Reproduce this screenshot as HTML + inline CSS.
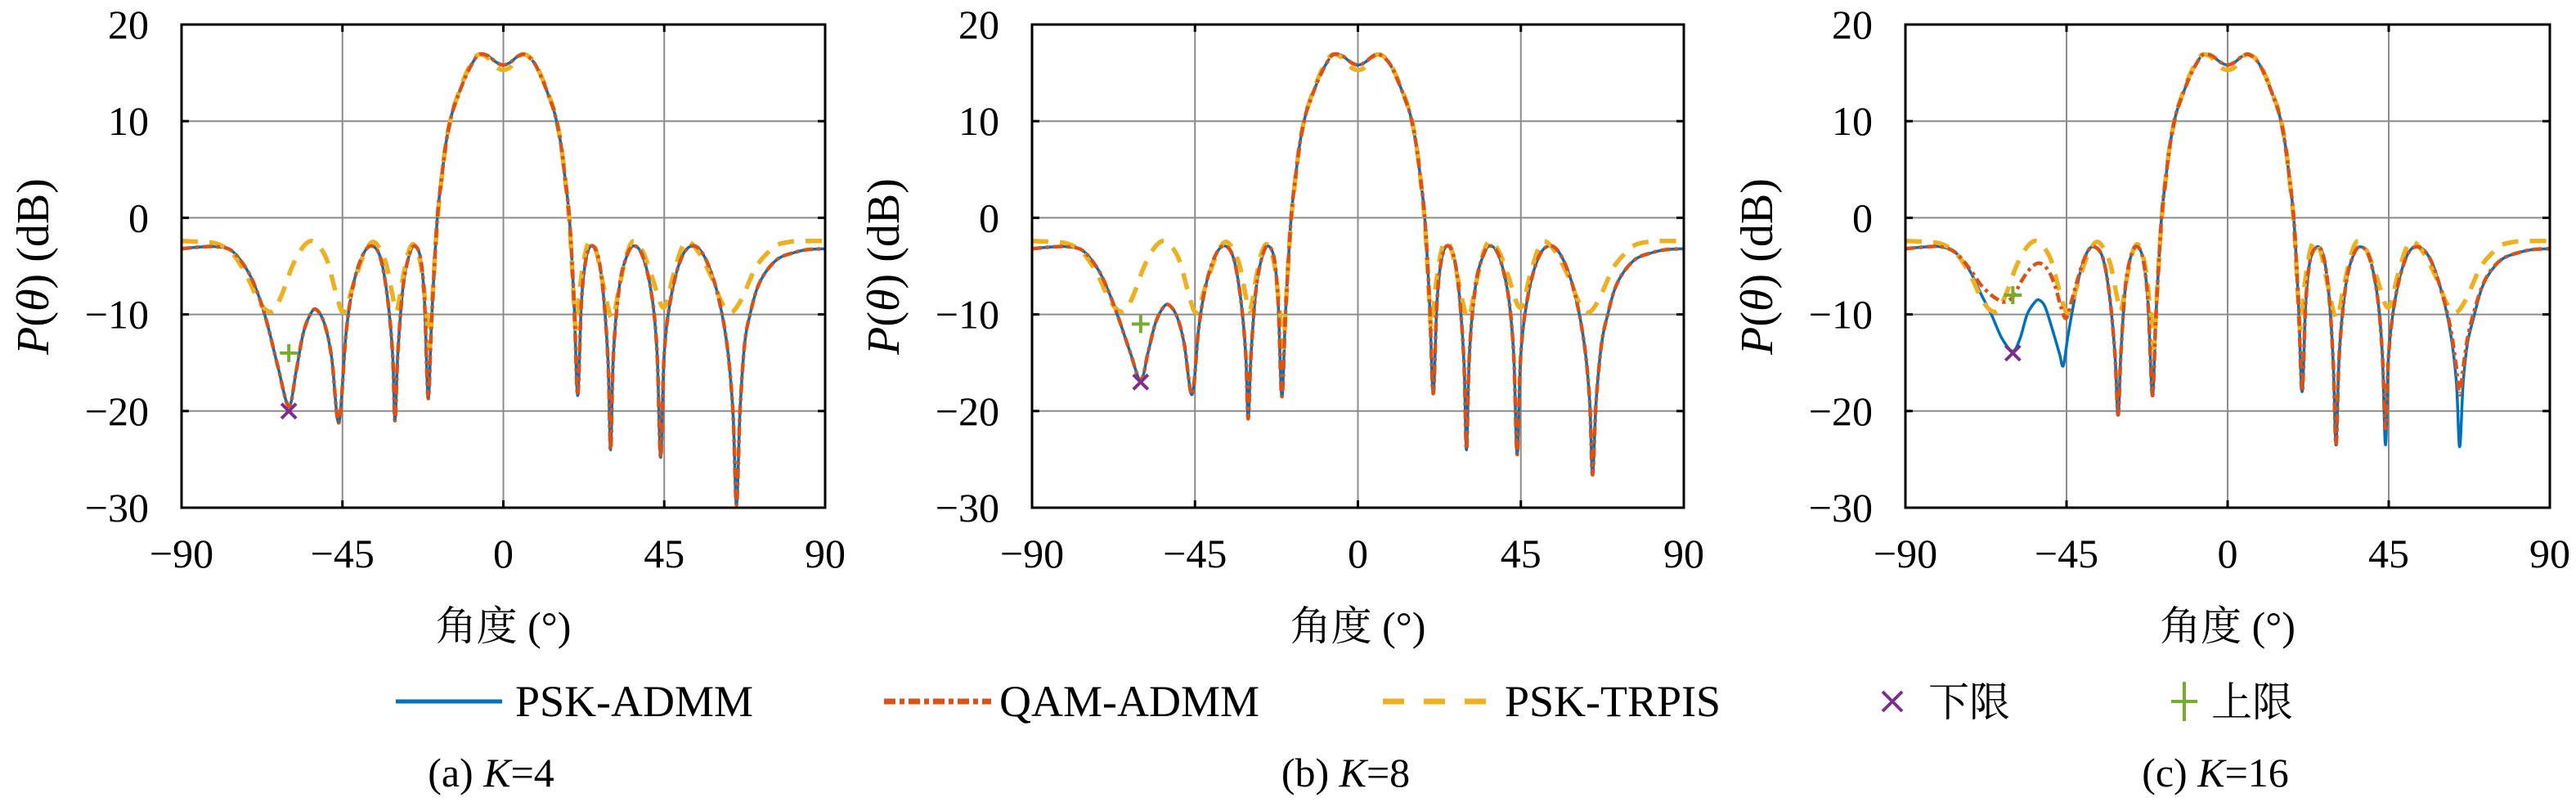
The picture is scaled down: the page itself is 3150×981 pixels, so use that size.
<!DOCTYPE html>
<html><head><meta charset="utf-8">
<style>
html,body{margin:0;padding:0;background:#fff;}
svg{display:block;}
svg text{font-family:"Liberation Serif","DejaVu Serif","Noto Serif CJK SC",serif;fill:#000;}
</style></head>
<body>
<svg id="fig" width="3150" height="981" viewBox="0 0 3150 981" xmlns="http://www.w3.org/2000/svg" font-family="Liberation Serif, DejaVu Serif, Noto Serif CJK SC, serif">
<g>
  <g>
    <line x1="484" y1="858" x2="614" y2="858" stroke="#0072BD" stroke-width="5"/>
    <text x="630" y="876" font-size="54" font-family="Liberation Serif, serif">PSK-ADMM</text>
  </g>
  <g>
    <line x1="1081" y1="858" x2="1212" y2="858" stroke="#D95319" stroke-width="7" stroke-dasharray="14 5 6 5"/>
    <text x="1222" y="876" font-size="54" font-family="Liberation Serif, serif">QAM-ADMM</text>
  </g>
  <g>
    <line x1="1691" y1="858" x2="1821" y2="858" stroke="#EDB120" stroke-width="7" stroke-dasharray="26 24"/>
    <text x="1840" y="876" font-size="54" font-family="Liberation Serif, serif">PSK-TRPIS</text>
  </g>
  <g>
    <path d="M2302 846 L2326 870 M2326 846 L2302 870" stroke="#7E2F8E" stroke-width="4"/>
    <text x="2358" y="876" font-size="50" font-family="Noto Serif CJK SC, serif">下限</text>
  </g>
  <g>
    <path d="M2671 834 L2671 882 M2655 858 L2687 858" stroke="#77AC30" stroke-width="4"/>
    <text x="2704" y="876" font-size="50" font-family="Noto Serif CJK SC, serif">上限</text>
  </g>
</g>
</svg>
<script>
// Shared axis ticks
const xTicks = [-90, -45, 0, 45, 90];
const yTicks = [20, 10, 0, -10, -20, -30];
const xTickLabels = ["\u221290", "\u221245", "0", "45", "90"];
const yTickLabels = ["20", "10", "0", "\u221210", "\u221220", "\u221230"];
const panelCaptions = ["(a) ", "(b) ", "(c) "];
const panelK = ["4", "8", "16"];

// Panel (a) K=4 : [angle, dB]
const psk_a = [[-90,-3.2],[-84,-3.0],[-80,-3.0],[-76,-3.4],[-72,-5.2],[-69,-7.5],[-66,-11],[-63,-15.5],[-60,-19.5],[-58,-16],[-56,-12],[-54,-10],[-52.3,-9.5],[-50,-11],[-48,-14.5],[-46,-21.2],[-44,-12],[-42,-7],[-39.5,-4],[-37,-2.9],[-34.5,-4],[-32.5,-8],[-31,-14],[-30.3,-21],[-29.5,-14],[-28,-7],[-26,-3.5],[-24.4,-3.0],[-23,-4.5],[-22,-9],[-21,-18.7],[-20,-10],[-18.5,-0.2],[-17.2,4.3],[-16,7.8],[-14.5,10.6],[-13,12.3],[-10.8,14.4],[-8.5,16.1],[-6.8,16.9],[-4.5,16.8],[-2,16.1],[0,15.8],[2,16.1],[4,16.7],[5.9,16.9],[8.5,16.1],[10.8,14.4],[13,12.3],[14.5,10.6],[16,7.8],[17.2,4.3],[18.5,-0.2],[19.8,-9],[20.8,-18.4],[21.8,-9],[23,-4.5],[24.6,-2.9],[26.5,-4],[28,-8],[29.3,-15],[30,-24],[30.8,-14],[32.5,-7],[34.5,-4],[36.5,-2.9],[39,-4],[41.5,-8],[43,-14],[44,-24.8],[45,-14],[47,-8],[50,-4],[53.3,-2.9],[56.5,-4.2],[59.8,-7.7],[62.5,-13],[64.2,-20],[65.2,-29.7],[66.2,-20],[67.5,-13],[69,-10],[71,-7.3],[73.6,-5.5],[77,-4.2],[81.3,-3.6],[85,-3.3],[90,-3.2]];
const qam_a = psk_a;
const trpis_a = [[-90,-2.4],[-84,-2.5],[-80,-2.7],[-76,-3.6],[-72,-5.8],[-69,-8.2],[-66.5,-9.5],[-64.3,-9.6],[-62,-8],[-59,-5],[-56,-3],[-53.5,-2.4],[-51,-3.2],[-49,-4.7],[-47,-7.5],[-44.7,-9.8],[-42,-7],[-39,-3.8],[-36.2,-2.5],[-33,-4.5],[-31,-8],[-29.8,-9.6],[-28,-6],[-26.5,-3.5],[-24.9,-2.8],[-23,-5],[-21.5,-10],[-20.6,-13.4],[-19.6,-7],[-18.5,-0.5],[-17.2,4.3],[-16,7.8],[-14.5,10.6],[-13,12.4],[-10.8,14.6],[-8.5,16.3],[-6.8,16.9],[-4.5,16.6],[-2,15.6],[0,15.3],[2,15.6],[4,16.6],[5.9,16.9],[8.5,16.2],[10.8,14.5],[13,12.4],[14.5,10.7],[16,7.9],[17.2,4.3],[18.5,-0.5],[19.5,-7],[20.3,-11.5],[21.5,-7],[23,-3.5],[24.3,-2.4],[26,-3.5],[28,-7],[30.4,-10.4],[32.5,-7],[34.5,-3.8],[36.4,-2.4],[39,-3.5],[41.5,-6],[44.8,-9.3],[47.5,-6],[49.5,-3.5],[51.4,-2.4],[54.5,-3.5],[58.3,-6.2],[61,-8.7],[63.6,-9.8],[66.5,-8.5],[70.5,-5.2],[74,-3.6],[76.6,-2.8],[80,-2.5],[82.8,-2.4],[90,-2.4]];
const lower_a = [[-60,-20]];
const upper_a = [[-60,-14]];

// Panel (b) K=8
const psk_b = [[-90,-3.2],[-84,-3.0],[-80,-3.0],[-76,-3.4],[-72,-5.2],[-69,-7.5],[-66,-10.5],[-63,-13.8],[-60,-16.8],[-58,-14],[-56,-11],[-54,-9.4],[-52.3,-9.0],[-50,-10.2],[-48,-13],[-45.8,-18.3],[-44,-11.5],[-42,-7],[-39.5,-4],[-37,-2.9],[-34.5,-4],[-32.5,-8],[-31,-14],[-30.3,-20.8],[-29.5,-14],[-28,-7],[-26,-3.5],[-24.4,-3.0],[-23,-4.5],[-22,-9],[-21,-18.5],[-20,-10],[-18.5,-0.2],[-17.2,4.3],[-16,7.8],[-14.5,10.6],[-13,12.3],[-10.8,14.4],[-8.5,16.1],[-6.8,16.9],[-4.5,16.8],[-2,16.1],[0,15.8],[2,16.1],[4,16.7],[5.9,16.9],[8.5,16.1],[10.8,14.4],[13,12.3],[14.5,10.6],[16,7.8],[17.2,4.3],[18.5,-0.2],[19.8,-9],[20.8,-18.2],[21.8,-9],[23,-4.5],[24.6,-2.9],[26.5,-4],[28,-8],[29.3,-15],[30,-24],[30.8,-14],[32.5,-7],[34.5,-4],[36.5,-2.9],[39,-4],[41.5,-8],[43,-14],[44,-24.5],[45,-14],[47,-8],[50,-4],[53.3,-2.9],[56.5,-4.2],[59.8,-7.7],[62.5,-13],[64,-19],[64.8,-26.6],[65.8,-19],[67.3,-13],[69,-10],[71,-7.3],[73.6,-5.5],[77,-4.2],[81.3,-3.6],[85,-3.3],[90,-3.2]];
const qam_b = psk_b;
const trpis_b = trpis_a;
const lower_b = [[-60,-17]];
const upper_b = [[-60,-11]];

// Panel (c) K=16
const psk_c = [[-90,-3.2],[-84,-3.0],[-80,-3.0],[-76,-3.6],[-72,-5.5],[-69,-7.8],[-66,-10],[-63,-12.5],[-60,-13.8],[-58,-12.5],[-56,-10],[-54,-8.8],[-52.7,-8.5],[-51,-9.2],[-49,-11.5],[-47,-14],[-45.9,-15.3],[-44.5,-12],[-42,-7],[-40,-4.2],[-37.8,-3.0],[-35,-4],[-33,-8],[-31.5,-14],[-30.6,-20.4],[-29.8,-14],[-28.5,-7],[-26.8,-3.7],[-25.1,-3.0],[-23.5,-4.5],[-22.2,-9],[-21,-18.4],[-20,-10],[-18.5,-0.2],[-17.2,4.3],[-16,7.8],[-14.5,10.6],[-13,12.3],[-10.8,14.4],[-8.5,16.1],[-6.8,16.9],[-4.5,16.8],[-2,16.1],[0,15.8],[2,16.1],[4,16.7],[5.9,16.9],[8.5,16.1],[10.8,14.4],[13,12.3],[14.5,10.6],[16,7.8],[17.2,4.3],[18.5,-0.2],[19.8,-9],[20.8,-18],[21.8,-9],[23,-4.5],[25,-3.0],[26.8,-4],[28.3,-8],[29.5,-15],[30.3,-23.5],[31.2,-14],[33,-7],[35,-4],[37,-3.0],[39.5,-4],[41.8,-8],[43.2,-14],[44.1,-23.5],[45,-14],[47,-8],[50,-4],[53,-3.0],[56.5,-4.2],[59.8,-7.7],[62.3,-12],[63.9,-17],[64.8,-23.7],[65.8,-17],[67,-13],[68.6,-10.5],[71,-7.3],[73.6,-5.5],[77,-4.2],[81.3,-3.6],[85,-3.3],[90,-3.2]];
const qam_c = [[-90,-3.2],[-84,-3.0],[-80,-3.0],[-76,-3.6],[-72,-5.3],[-69,-6.9],[-66,-8.0],[-63.5,-8.6],[-62.2,-8.7],[-60,-8.2],[-57.5,-6.5],[-55,-5.2],[-52.5,-4.7],[-50,-5.5],[-48,-7.3],[-46.5,-9.3],[-45.1,-10.4],[-43.5,-8.5],[-42,-6.5],[-40,-4.2],[-37.8,-3.0],[-35,-4],[-33,-8],[-31.5,-14],[-30.6,-20.4],[-29.8,-14],[-28.5,-7],[-26.8,-3.7],[-25.1,-3.0],[-23.5,-4.5],[-22.2,-9],[-21,-18.4],[-20,-10],[-18.5,-0.2],[-17.2,4.3],[-16,7.8],[-14.5,10.6],[-13,12.3],[-10.8,14.4],[-8.5,16.1],[-6.8,16.9],[-4.5,16.8],[-2,16.1],[0,15.8],[2,16.1],[4,16.7],[5.9,16.9],[8.5,16.1],[10.8,14.4],[13,12.3],[14.5,10.6],[16,7.8],[17.2,4.3],[18.5,-0.2],[19.8,-9],[20.8,-18],[21.8,-9],[23,-4.5],[25,-3.0],[26.8,-4],[28.3,-8],[29.5,-15],[30.3,-23.5],[31.2,-14],[33,-7],[35,-4],[37,-3.0],[39.5,-4],[41.8,-8],[43.2,-14],[44.1,-21.8],[45,-14],[47,-8],[50,-4],[53,-3.0],[56.5,-4.2],[59.8,-7.7],[62.3,-11.5],[63.9,-15.5],[64.8,-18.3],[65.8,-15.5],[67,-12.5],[68.6,-10],[71,-7.2],[73.6,-5.4],[77,-4.2],[81.3,-3.6],[85,-3.3],[90,-3.2]];
const trpis_c = trpis_a;
const lower_c = [[-60,-14]];
const upper_c = [[-60,-8]];

const panels = [
  {x0:222, x1:1009, psk:psk_a, qam:qam_a, trpis:trpis_a, lo:lower_a, up:upper_a},
  {x0:1262, x1:2059, psk:psk_b, qam:qam_b, trpis:trpis_b, lo:lower_b, up:upper_b},
  {x0:2330, x1:3118, psk:psk_c, qam:qam_c, trpis:trpis_c, lo:lower_c, up:upper_c}
];
const Y0 = 30, Y1 = 621;
const NS = "http://www.w3.org/2000/svg";
const SERIF = "Liberation Serif, DejaVu Serif, serif";
const svg = document.getElementById('fig');
function mk(tag, attrs, parent){const e=document.createElementNS(NS,tag);for(const k in attrs)e.setAttribute(k,attrs[k]);(parent||svg).appendChild(e);return e;}
function pathFrom(pts, sx, sy){
  const p = pts.map(d=>[sx(d[0]), sy(d[1])]);
  let d = "M"+p[0][0].toFixed(1)+" "+p[0][1].toFixed(1);
  for(let i=0;i<p.length-1;i++){
    const p0=p[Math.max(i-1,0)], p1=p[i], p2=p[i+1], p3=p[Math.min(i+2,p.length-1)];
    const c1=[p1[0]+(p2[0]-p0[0])/6, p1[1]+(p2[1]-p0[1])/6];
    const c2=[p2[0]-(p3[0]-p1[0])/6, p2[1]-(p3[1]-p1[1])/6];
    d+=" C"+c1[0].toFixed(1)+" "+c1[1].toFixed(1)+" "+c2[0].toFixed(1)+" "+c2[1].toFixed(1)+" "+p2[0].toFixed(1)+" "+p2[1].toFixed(1);
  }
  return d;
}
panels.forEach((P, idx)=>{
  const sx = a => P.x0 + (a+90)/180*(P.x1-P.x0);
  const sy = v => Y0 + (20-v)/50*(Y1-Y0);
  const g = mk('g', {});
  
  
  const clipId = 'clip'+idx;
  const cp = mk('clipPath', {id:clipId}, g);
  mk('rect', {x:P.x0, y:Y0, width:P.x1-P.x0, height:Y1-Y0}, cp);
  xTicks.slice(1,-1).forEach(t=>{
    const l = mk('line', {x1:sx(t), x2:sx(t), y1:Y0, y2:Y1, stroke:'#8c8c8c', 'stroke-width':2}, g);
    
    
  });
  yTicks.slice(1,-1).forEach(t=>{
    const l = mk('line', {x1:P.x0, x2:P.x1, y1:sy(t), y2:sy(t), stroke:'#8c8c8c', 'stroke-width':2}, g);
    
    
  });
  const cg = mk('g', {'clip-path':'url(#'+clipId+')'}, g);
  const s1 = mk('path', {d:pathFrom(P.psk,sx,sy), fill:'none', stroke:'#0072BD', 'stroke-width':3.5, 'stroke-linejoin':'round'}, cg);
  
  
  const s3 = mk('path', {d:pathFrom(P.trpis,sx,sy), fill:'none', stroke:'#EDB120', 'stroke-width':5.5, 'stroke-dasharray':'20 14'}, cg);
  
  
  const s2 = mk('path', {d:pathFrom(P.qam,sx,sy), fill:'none', stroke:'#D95319', 'stroke-width':4.5, 'stroke-dasharray':'12 5 4 5'}, cg);
  
  
  P.lo.forEach(m=>{
    const x=sx(m[0]), y=sy(m[1]);
    const e = mk('path', {d:`M${x-9} ${y-9} L${x+9} ${y+9} M${x+9} ${y-9} L${x-9} ${y+9}`, stroke:'#7E2F8E', 'stroke-width':4}, g);
    
    
  });
  P.up.forEach(m=>{
    const x=sx(m[0]), y=sy(m[1]);
    const e = mk('path', {d:`M${x} ${y-11} L${x} ${y+11} M${x-11} ${y} L${x+11} ${y}`, stroke:'#77AC30', 'stroke-width':4}, g);
    
    
  });
  const fr = mk('rect', {x:P.x0, y:Y0, width:P.x1-P.x0, height:Y1-Y0, fill:'none', stroke:'#000', 'stroke-width':3}, g);
  
  
  xTicks.forEach((t,i)=>{
    mk('line', {x1:sx(t), x2:sx(t), y1:Y1, y2:Y1-9, stroke:'#000', 'stroke-width':3}, g);
    mk('line', {x1:sx(t), x2:sx(t), y1:Y0, y2:Y0+9, stroke:'#000', 'stroke-width':3}, g);
    const tx = mk('text', {x:sx(t), y:694, 'font-size':50, 'text-anchor':'middle', 'font-family':SERIF}, g);
    tx.textContent = xTickLabels[i];
    
    
  });
  yTicks.forEach((t,i)=>{
    mk('line', {x1:P.x0, x2:P.x0+9, y1:sy(t), y2:sy(t), stroke:'#000', 'stroke-width':3}, g);
    mk('line', {x1:P.x1, x2:P.x1-9, y1:sy(t), y2:sy(t), stroke:'#000', 'stroke-width':3}, g);
    const tx = mk('text', {x:P.x0-40, y:sy(t)+17, 'font-size':50, 'text-anchor':'end', 'font-family':SERIF}, g);
    tx.textContent = yTickLabels[i];
    
    
  });
  const yl = mk('text', {x:0, y:0, 'font-size':56, 'text-anchor':'middle', 'font-family':SERIF, transform:`translate(${P.x0-163},326) rotate(-90)`}, g);
  yl.innerHTML = '<tspan font-style="italic">P</tspan>(<tspan font-style="italic">θ</tspan>)  (dB)';
  
  
  const xl = mk('text', {x:(P.x0+P.x1)/2, y:783, 'font-size':50, 'text-anchor':'middle', 'font-family':'Liberation Serif, Noto Serif CJK SC, serif'}, g);
  xl.textContent = '角度 (°)';
  
  
  const cap = mk('text', {x:(P.x0+P.x1)/2 - 15, y:962, 'font-size':50, 'text-anchor':'middle', 'font-family':SERIF}, g);
  cap.innerHTML = panelCaptions[idx] + '<tspan font-style="italic">K</tspan>=' + panelK[idx];
  
  
});
</script>
</body></html>
